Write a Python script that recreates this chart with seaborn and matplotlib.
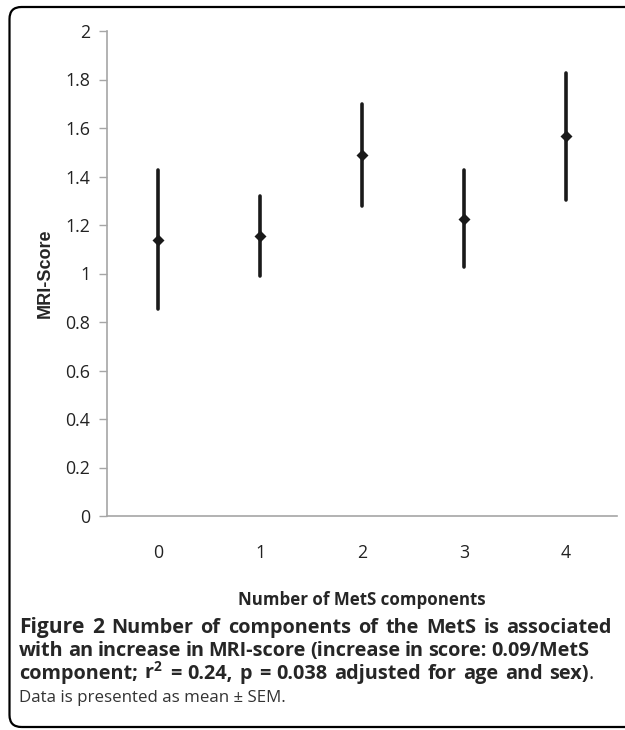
import numpy as np
import pandas as pd
import matplotlib
matplotlib.use("Agg")
import matplotlib.pyplot as plt
import seaborn as sns
from matplotlib.patches import FancyBboxPatch

# DATA
components = ["0", "1", "2", "3", "4"]
mri_mean = [1.14, 1.155, 1.49, 1.225, 1.565]
mri_sem = [0.285, 0.165, 0.21, 0.20, 0.26]
y_ticks = [0, 0.2, 0.4, 0.6, 0.8, 1, 1.2, 1.4, 1.6, 1.8, 2]
y_ticklabels = ["0", "0.2", "0.4", "0.6", "0.8", "1", "1.2", "1.4", "1.6", "1.8", "2"]

caption_lines = [
    "Number of components of the MetS is associated",
    "with an increase in MRI-score (increase in score: 0.09/MetS",
    r"component; r$^\mathbf{2}$ = 0.24, p = 0.038 adjusted for age and sex)",
]
caption_note = "Data is presented as mean \u00b1 SEM."

# mean -/+ sem as two rows per group, pointplot gives back mean and range
rows = []
for c, m, s in zip(components, mri_mean, mri_sem):
    rows.append({"n": c, "score": m - s})
    rows.append({"n": c, "score": m + s})
df = pd.DataFrame(rows)

sns.set_style("white")
plt.rcParams["font.family"] = ["Open Sans", "DejaVu Sans"]
plt.rcParams["mathtext.fontset"] = "custom"
plt.rcParams["mathtext.bf"] = "Open Sans:bold"
plt.rcParams["mathtext.rm"] = "Open Sans:bold"

fig = plt.figure(figsize=(6.25, 7.3), dpi=100)
ax = fig.add_axes([107 / 625, 1 - 516 / 730, 510 / 625, 485 / 730])

sns.pointplot(data=df, x="n", y="score", order=components,
              estimator="mean", errorbar=lambda v: (v.min(), v.max()),
              linestyle="none", marker="D", markersize=4,
              color="#1a1a1a", err_kws={"linewidth": 2.6}, ax=ax)

ax.set_ylim(0, 2)
ax.set_xlim(-0.5, 4.5)
ax.set_yticks(y_ticks)
ax.set_yticklabels(y_ticklabels)
ax.set_xticks(np.arange(-0.5, 5, 1), minor=True)
ax.tick_params(axis="x", which="major", length=0, pad=20, labelsize=12.8, colors="#222222")
ax.tick_params(axis="x", which="minor", length=6, width=1, color="#a6a6a6", direction="out")
ax.tick_params(axis="y", length=6, width=1, color="#a6a6a6", direction="out", pad=6,
               labelsize=12.8, labelcolor="#222222")
ax.tick_params(axis="both", bottom=True, left=True)
for sp in ["top", "right"]:
    ax.spines[sp].set_visible(False)
for sp in ["left", "bottom"]:
    ax.spines[sp].set_color("#a6a6a6")
    ax.spines[sp].set_linewidth(1.2)

ax.set_ylabel("MRI-Score", fontsize=13, fontweight="bold", family="Liberation Sans")
ax.yaxis.set_label_coords(-0.104, 0.5)
ax.set_xlabel("Number of MetS components", fontsize=12.2, fontweight="bold")
ax.xaxis.set_label_coords(0.5, -0.155)

# caption, bold lines spread word by word to the widths of the original
fig.canvas.draw()
r = fig.canvas.get_renderer()
cap_fs = 14.3


def spread_line(words, sizes, y_px, x0, x1):
    texts = [fig.text(0, 1 - y_px / 730, w, fontsize=s, fontweight="bold")
             for w, s in zip(words, sizes)]
    widths = [t.get_window_extent(r).width for t in texts]
    gap = (x1 - x0 - sum(widths)) / (len(words) - 1)
    x = x0
    for t, w in zip(texts, widths):
        t.set_x(x / 625)
        x += w + gap
    return x - gap


words1 = ["Figure", "2"] + caption_lines[0].split()
spread_line(words1, [cap_fs + 0.8] * 2 + [cap_fs] * (len(words1) - 2), 633, 19, 612)
words2 = caption_lines[1].split()
spread_line(words2, [cap_fs] * len(words2), 656, 19, 589)
words3 = caption_lines[2].split(" ")
end3 = spread_line(words3, [cap_fs] * len(words3), 679, 19, 589)
fig.text(end3 / 625, 1 - 679 / 730, ".", fontsize=cap_fs)
fig.text(19 / 625, 1 - 702 / 730, caption_note, fontsize=12.2, color="#333333")

frame = FancyBboxPatch((9.5, 3), 700, 720, boxstyle="round,pad=0,rounding_size=12",
                       transform=None, facecolor="none", edgecolor="black", linewidth=1.6)
fig.add_artist(frame)

fig.savefig("out.png", dpi=100)
